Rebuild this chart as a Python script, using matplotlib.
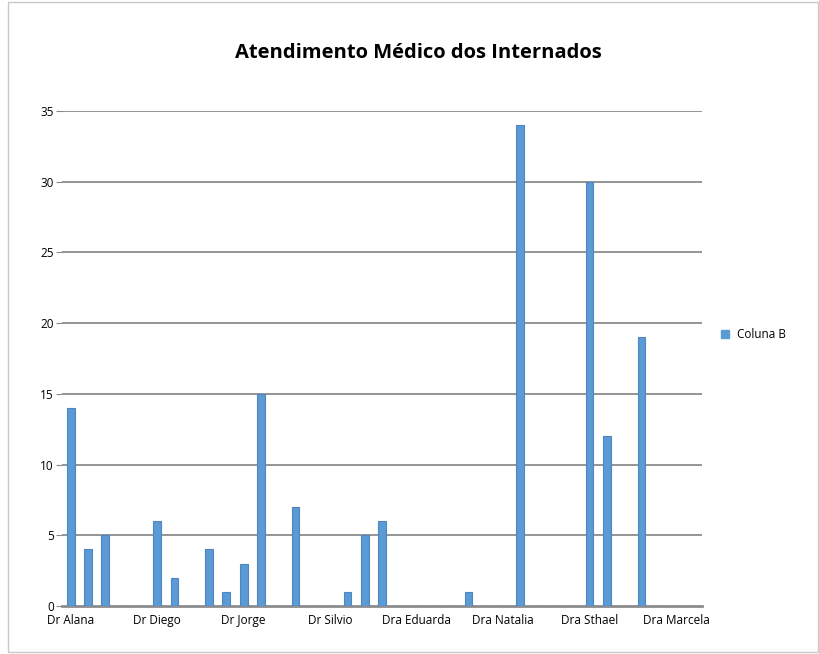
import matplotlib.pyplot as plt
import numpy as np
from matplotlib.patches import Rectangle

plt.rcParams['font.family'] = ['Open Sans', 'DejaVu Sans']

# valores por categoria (37 categorias, rótulo a cada 5)
valores = [14, 4, 5, 0, 0, 6, 2, 0, 4, 1, 3, 15, 0, 7, 0, 0, 1, 5, 6, 0,
           0, 0, 0, 1, 0, 0, 34, 0, 0, 0, 30, 12, 0, 19, 0, 0, 0]
nomes = ["Dr Alana", "Dr Diego", "Dr Jorge", "Dr Silvio",
         "Dra Eduarda", "Dra Natalia", "Dra Sthael", "Dra Marcela"]
yticks = [0, 5, 10, 15, 20, 25, 30, 35]

fig = plt.figure(figsize=(8.2, 6.54), dpi=100)
ax = fig.add_axes([62/820, 1-606/654, 640/820, 495/654])

x = np.arange(len(valores))
ax.bar(x, valores, width=0.45, color="#5b9bd5", edgecolor="#4f86c0", linewidth=0.8, zorder=3)

ax.set_xlim(-0.5, len(valores) - 0.5)
ax.set_ylim(0, 35)
ax.set_yticks(yticks)
ax.set_xticks(x[::5])
ax.set_xticklabels(nomes, fontsize=8.5)
ax.tick_params(axis="y", labelsize=8.5, length=4, color="#888888", pad=2)
ax.tick_params(axis="x", length=0, pad=6)
for y in yticks[1:]:
    ax.axhline(y, color="#8c8c8c", lw=1.3, zorder=1)
for s in ["top", "right", "left"]:
    ax.spines[s].set_visible(False)
ax.spines["bottom"].set_color("#8c8c8c")
ax.spines["bottom"].set_linewidth(2)

fig.text(418/820, 1-53/654, "Atendimento Médico dos Internados", ha="center", va="center",
         fontsize=14.5, fontweight="bold")

fig.patches.append(Rectangle((721/820, 1-338/654), 8/820, 8/654, transform=fig.transFigure,
                             color="#5b9bd5", figure=fig))
fig.text(737/820, 1-335/654, "Coluna B", va="center", fontsize=8.5)

fig.patches.append(Rectangle((8/820, 2/654), 810/820, 650/654, transform=fig.transFigure,
                             fill=False, edgecolor="#c8c8c8", lw=1, figure=fig))

fig.savefig("out.png")
